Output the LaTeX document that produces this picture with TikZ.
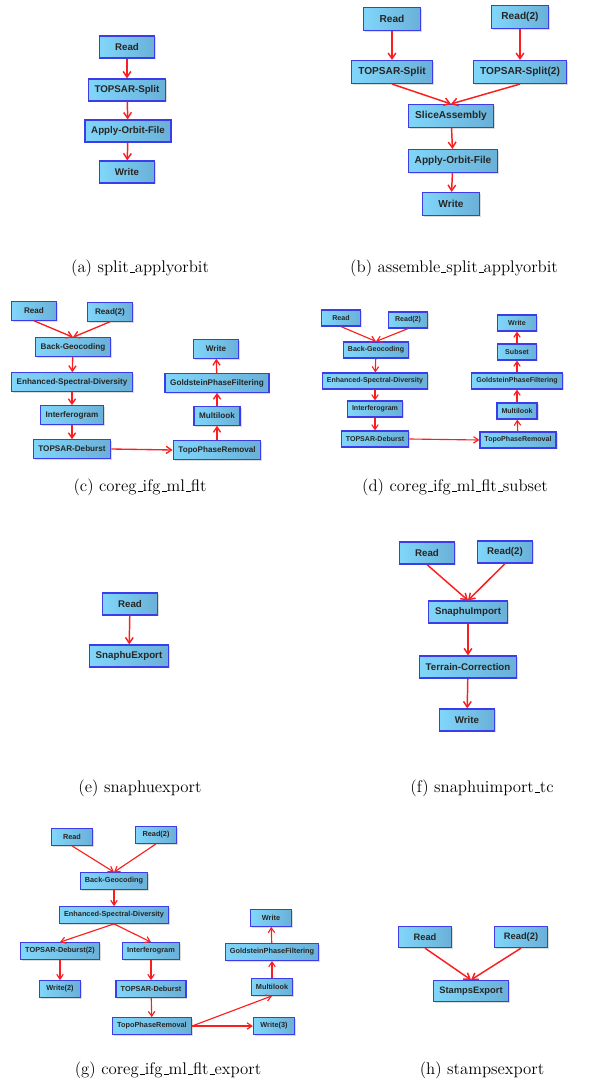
\documentclass[tikz,border=0pt]{standalone}
\usepackage{fontspec}
\newfontfamily\opfont{Liberation Sans}
\usetikzlibrary{arrows.meta,shadows}

\definecolor{opedge}{RGB}{60,60,235}
\definecolor{opleft}{RGB}{128,214,250}
\definecolor{opright}{RGB}{106,176,216}
\definecolor{flowred}{RGB}{250,30,30}

\newcommand{\usc}{\leavevmode\kern.06em\vbox{\hrule width.3em}}

\tikzset{every picture/.style={line width=0.75pt}}
\tikzset{
  op/.style={draw=opedge, line width=0.9pt, left color=opleft, right color=opright,
    drop shadow={shadow xshift=1.1pt, shadow yshift=-1.1pt, fill=black!30, opacity=0.45},
    font=\opfont\bfseries\fontsize{#1}{#1}\selectfont, text=black!85,
    minimum height=2.26*#1pt, minimum width=5.6*#1pt, inner xsep=0.64*#1pt, inner ysep=0pt},
  flow/.style={draw=flowred, line width=#1, -{Straight Barb[length=1.4pt 2.6, width=1.6pt 3.8]}},
  flow/.default=1.1pt,
  subcap/.style={font=\fontsize{12.6}{15}\selectfont, inner sep=0.75pt}
}

\begin{document}
\begin{tikzpicture}[x=0.75pt,y=0.75pt,yscale=-1,xscale=1]
\useasboundingbox (0,0) rectangle (598,1088);

% (a) split_applyorbit
\node[op=7.3] (a-read)  at (127,47)  {Read};
\node[op=7.3] (a-split) at (127,90)  {TOPSAR-Split};
\node[op=7.3] (a-orb)   at (128,131) {Apply-Orbit-File};
\node[op=7.3] (a-write) at (127,172) {Write};
\draw[flow] (a-read) -- (a-split);
\draw[flow] (a-split) -- (a-orb);
\draw[flow] (a-orb) -- (a-write);
\node[subcap] (a-cap) at (140,268) {(a) split\usc applyorbit};

% (b) assemble_split_applyorbit
\node[op=7.6] (b-read)   at (392,19)  {Read};
\node[op=7.6] (b-read2)  at (520,17)  {Read(2)};
\node[op=7.6] (b-split)  at (392,72)  {TOPSAR-Split};
\node[op=7.6] (b-split2) at (520,72)  {TOPSAR-Split(2)};
\node[op=7.6] (b-slice)  at (451,116) {SliceAssembly};
\node[op=7.6] (b-orb)    at (453,161) {Apply-Orbit-File};
\node[op=7.6] (b-write)  at (451,204) {Write};
\draw[flow] (b-read) -- (b-split);
\draw[flow] (b-read2) -- (b-split2);
\draw[flow] (b-split.south) -- (b-slice.north);
\draw[flow] (b-split2.south) -- (b-slice.north);
\draw[flow] (b-slice) -- (b-orb);
\draw[flow] (b-orb) -- (b-write);
\node[subcap] (b-cap) at (454,268) {(b) assemble\usc split\usc applyorbit};

% (c) coreg_ifg_ml_flt
\node[op=6.1] (c-read)  at (34,311)  {Read};
\node[op=6.1] (c-read2) at (110,312) {Read(2)};
\node[op=6.1] (c-geo)   at (73,347)  {Back-Geocoding};
\node[op=6.1] (c-esd)   at (72,382)  {Enhanced-Spectral-Diversity};
\node[op=6.1] (c-ifg)   at (72,415)  {Interferogram};
\node[op=6.1] (c-deb)   at (72,449)  {TOPSAR-Deburst};
\node[op=6.1] (c-topo)  at (217,450) {TopoPhaseRemoval};
\node[op=6.1] (c-ml)    at (217,416) {Multilook};
\node[op=6.1] (c-gold)  at (217,383) {GoldsteinPhaseFiltering};
\node[op=6.1] (c-write) at (216,349) {Write};
\draw[flow=1pt] (c-read.south) -- (c-geo.north);
\draw[flow=1pt] (c-read2.south) -- (c-geo.north);
\draw[flow=1pt] (c-geo) -- (c-esd);
\draw[flow=1pt] (c-esd) -- (c-ifg);
\draw[flow=1pt] (c-ifg) -- (c-deb);
\draw[flow=1pt] (c-deb.east) -- (c-topo.west);
\draw[flow=1pt] (c-topo) -- (c-ml);
\draw[flow=1pt] (c-ml) -- (c-gold);
\draw[flow=1pt] (c-gold) -- (c-write);
\node[subcap] (c-cap) at (140,487) {(c) coreg\usc ifg\usc ml\usc flt};

% (d) coreg_ifg_ml_flt_subset
\node[op=5.3] (d-read)  at (341,318) {Read};
\node[op=5.3] (d-read2) at (408,320) {Read(2)};
\node[op=5.3] (d-geo)   at (376,350) {Back-Geocoding};
\node[op=5.3] (d-esd)   at (375,381) {Enhanced-Spectral-Diversity};
\node[op=5.3] (d-ifg)   at (375,409) {Interferogram};
\node[op=5.3] (d-deb)   at (375,439) {TOPSAR-Deburst};
\node[op=5.3] (d-topo)  at (518,440) {TopoPhaseRemoval};
\node[op=5.3] (d-ml)    at (517,411) {Multilook};
\node[op=5.3] (d-gold)  at (517,381) {GoldsteinPhaseFiltering};
\node[op=5.3] (d-sub)   at (517,352) {Subset};
\node[op=5.3] (d-write) at (517,323) {Write};
\draw[flow=0.85pt] (d-read.south) -- (d-geo.north);
\draw[flow=0.85pt] (d-read2.south) -- (d-geo.north);
\draw[flow=0.85pt] (d-geo) -- (d-esd);
\draw[flow=0.85pt] (d-esd) -- (d-ifg);
\draw[flow=0.85pt] (d-ifg) -- (d-deb);
\draw[flow=0.85pt] (d-deb.east) -- (d-topo.west);
\draw[flow=0.85pt] (d-topo) -- (d-ml);
\draw[flow=0.85pt] (d-ml) -- (d-gold);
\draw[flow=0.85pt] (d-gold) -- (d-sub);
\draw[flow=0.85pt] (d-sub) -- (d-write);
\node[subcap] (d-cap) at (455,487) {(d) coreg\usc ifg\usc ml\usc flt\usc subset};

% (e) snaphuexport
\node[op=7.3] (e-read) at (130,604) {Read};
\node[op=7.3] (e-exp)  at (129,656) {SnaphuExport};
\draw[flow] (e-read) -- (e-exp);
\node[subcap] (e-cap) at (140,788) {(e) snaphuexport};

% (f) snaphuimport_tc
\node[op=7.3] (f-read)  at (427,553) {Read};
\node[op=7.3] (f-read2) at (505,552) {Read(2)};
\node[op=7.3] (f-imp)   at (468,612) {SnaphuImport};
\node[op=7.3] (f-tc)    at (468,667) {Terrain-Correction};
\node[op=7.3] (f-write) at (467,720) {Write};
\draw[flow] (f-read.south) -- (f-imp.north);
\draw[flow] (f-read2.south) -- (f-imp.north);
\draw[flow] (f-imp) -- (f-tc);
\draw[flow] (f-tc) -- (f-write);
\node[subcap] (f-cap) at (482,788) {(f) snaphuimport\usc tc};

% (g) coreg_ifg_ml_flt_export
\node[op=5.5] (g-read)   at (72,837)   {Read};
\node[op=5.5] (g-read2)  at (156,835)  {Read(2)};
\node[op=5.5] (g-geo)    at (114,881)  {Back-Geocoding};
\node[op=5.5] (g-esd)    at (114,915)  {Enhanced-Spectral-Diversity};
\node[op=5.5] (g-deb2)   at (60,951)   {TOPSAR-Deburst(2)};
\node[op=5.5] (g-ifg)    at (151,951)  {Interferogram};
\node[op=5.5] (g-write2) at (60,989)   {Write(2)};
\node[op=5.5] (g-deb)    at (151,989)  {TOPSAR-Deburst};
\node[op=5.5] (g-topo)   at (152,1026) {TopoPhaseRemoval};
\node[op=5.5] (g-write3) at (274,1026) {Write(3)};
\node[op=5.5] (g-ml)     at (272,987)  {Multilook};
\node[op=5.5] (g-gold)   at (272,952)  {GoldsteinPhaseFiltering};
\node[op=5.5] (g-write)  at (271,918)  {Write};
\draw[flow=0.85pt] (g-read.south) -- (g-geo.north);
\draw[flow=0.85pt] (g-read2.south) -- (g-geo.north);
\draw[flow=0.85pt] (g-geo) -- (g-esd);
\draw[flow=0.85pt] (g-esd.south) -- (g-deb2.north);
\draw[flow=0.85pt] (g-esd.south) -- (g-ifg.north);
\draw[flow=0.85pt] (g-deb2) -- (g-write2);
\draw[flow=0.85pt] (g-ifg) -- (g-deb);
\draw[flow=0.85pt] (g-deb) -- (g-topo);
\draw[flow=0.85pt] (g-topo.east) -- (g-ml.south);
\draw[flow=0.85pt] (g-topo.east) -- (g-write3.west);
\draw[flow=0.85pt] (g-ml) -- (g-gold);
\draw[flow=0.85pt] (g-gold) -- (g-write);
\node[subcap] (g-cap) at (168,1070) {(g) coreg\usc ifg\usc ml\usc flt\usc export};

% (h) stampsexport
\node[op=7.0] (h-read)  at (425,937) {Read};
\node[op=7.0] (h-read2) at (521,937) {Read(2)};
\node[op=7.0] (h-exp)   at (471,991) {StampsExport};
\draw[flow] (h-read.south) -- (h-exp.north);
\draw[flow] (h-read2.south) -- (h-exp.north);
\node[subcap] (h-cap) at (482,1070) {(h) stampsexport};

\end{tikzpicture}
\end{document}
